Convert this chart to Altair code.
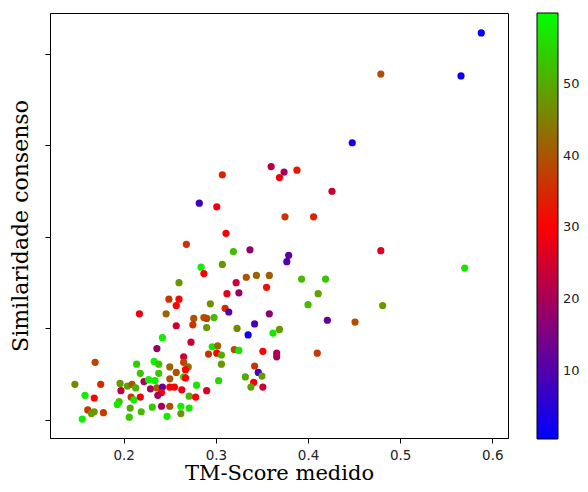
import altair as alt
import pandas as pd

# TM-Score medido (x), similaridade consenso (y, unlabeled axis), color value
tm_score = [0.588,0.479,0.566,0.448,0.360,0.374,0.388,0.369,0.307,0.426,
0.282,0.301,0.375,0.406,0.311,0.268,0.319,0.337,0.379,0.377,
0.479,0.284,0.307,0.287,0.570,0.260,0.333,0.344,0.358,0.393,
0.419,0.322,0.355,0.312,0.325,0.411,0.249,0.260,0.257,0.294,
0.400,0.481,0.217,0.246,0.310,0.314,0.276,0.287,0.290,0.298,
0.358,0.421,0.451,0.257,0.275,0.290,0.323,0.342,0.335,0.362,
0.369,0.242,0.273,0.236,0.296,0.302,0.292,0.301,0.306,0.320,
0.325,0.351,0.366,0.366,0.410,0.169,0.214,0.233,0.238,0.250,
0.218,0.238,0.257,0.265,0.265,0.270,0.267,0.265,0.267,0.306,
0.342,0.346,0.350,0.332,0.341,0.338,0.351,0.303,0.279,0.147,
0.175,0.196,0.197,0.204,0.209,0.213,0.222,0.227,0.234,0.229,
0.236,0.242,0.241,0.250,0.255,0.250,0.237,0.158,0.168,0.195,
0.193,0.208,0.211,0.218,0.207,0.161,0.168,0.165,0.178,0.155,
0.206,0.219,0.231,0.241,0.250,0.247,0.263,0.290,0.271,0.278,
0.262,0.271,0.262]

similaridade = [0.523,0.478,0.476,0.403,0.377,0.371,0.373,0.365,0.368,0.350,
0.337,0.333,0.322,0.322,0.304,0.292,0.284,0.286,0.280,0.273,
0.285,0.267,0.270,0.260,0.266,0.250,0.256,0.258,0.258,0.254,
0.254,0.250,0.245,0.238,0.239,0.238,0.232,0.232,0.225,0.227,
0.226,0.225,0.216,0.216,0.222,0.218,0.211,0.212,0.211,0.212,
0.216,0.209,0.207,0.203,0.204,0.201,0.200,0.205,0.193,0.195,
0.199,0.190,0.185,0.178,0.180,0.181,0.172,0.173,0.171,0.177,
0.176,0.175,0.173,0.169,0.173,0.163,0.161,0.164,0.161,0.158,
0.151,0.151,0.152,0.169,0.163,0.158,0.155,0.147,0.146,0.161,
0.159,0.152,0.148,0.147,0.141,0.136,0.136,0.143,0.138,0.139,
0.139,0.140,0.132,0.137,0.139,0.135,0.142,0.144,0.143,0.134,
0.135,0.136,0.130,0.136,0.136,0.145,0.127,0.127,0.124,0.120,
0.117,0.125,0.122,0.125,0.113,0.111,0.109,0.107,0.108,0.101,
0.103,0.109,0.114,0.115,0.115,0.104,0.133,0.132,0.126,0.125,
0.115,0.113,0.107]

cor = [1,39,2,3,22,20,33,28,34,24,
8,28,36,34,29,36,52,17,11,10,
26,58,48,30,57,48,40,42,41,52,
53,24,32,27,18,49,36,31,30,47,
52,48,28,42,35,10,40,39,38,52,
17,12,39,25,36,48,46,9,2,57,
48,58,24,18,57,42,36,30,50,39,
57,30,21,20,37,38,54,58,53,42,
53,53,40,25,38,43,30,58,30,48,
36,8,48,50,30,49,24,55,57,46,
35,48,22,49,40,51,20,58,58,20,
40,12,30,30,30,40,20,58,30,53,
57,36,58,28,50,36,48,48,37,58,
53,52,54,20,40,58,28,26,52,30,
58,57,48]

x_ticks = [0.2, 0.3, 0.4, 0.5, 0.6]
y_ticks = [0.1, 0.2, 0.3, 0.4, 0.5]
cbar_ticks = [10, 20, 30, 40, 50]

df = pd.DataFrame({"tm": tm_score, "sim": similaridade, "c": cor})

color_scale = alt.Scale(domain=[0.5, 30.2, 59.9],
                        range=["#0000ff", "#ff0000", "#00ff00"],
                        interpolate="rgb")

chart = alt.Chart(df).mark_circle(size=52, opacity=1).encode(
    x=alt.X("tm:Q",
            scale=alt.Scale(domain=[0.120, 0.617], nice=False, zero=False),
            axis=alt.Axis(values=x_ticks, format=".1f", title="TM-Score medido",
                          grid=False, tickSize=5, tickColor="black",
                          domainColor="black", labelFont="DejaVu Sans",
                          labelFontSize=13.5, labelColor="#222", labelPadding=5,
                          titleFont="DejaVu Serif", titleFontSize=21,
                          titleFontWeight="normal", titleColor="black",
                          titlePadding=1)),
    y=alt.Y("sim:Q",
            scale=alt.Scale(domain=[0.0803, 0.5448], nice=False, zero=False),
            axis=alt.Axis(values=y_ticks, labels=False,
                          title="Similaridade consenso",
                          grid=False, tickSize=5, tickColor="black",
                          domainColor="black",
                          titleFont="DejaVu Serif", titleFontSize=22,
                          titleFontWeight="normal", titleColor="black",
                          titlePadding=12)),
    color=alt.Color("c:Q", scale=color_scale,
                    legend=alt.Legend(orient="none", legendX=487, legendY=0,
                                      direction="vertical", title=None,
                                      gradientLength=426, gradientThickness=21,
                                      gradientStrokeColor="black",
                                      gradientStrokeWidth=1,
                                      values=cbar_ticks,
                                      labelFont="DejaVu Sans",
                                      labelFontSize=13, labelColor="#222",
                                      labelOffset=5, labelOverlap=False))
).properties(
    width=458, height=425,
    padding={"left": 42, "top": 5, "right": 72, "bottom": 46},
    autosize=alt.AutoSizeParams(type="none")
).configure_view(stroke="black", strokeWidth=1)

chart.save("out.html", embed_options={"renderer": "svg", "actions": False})
